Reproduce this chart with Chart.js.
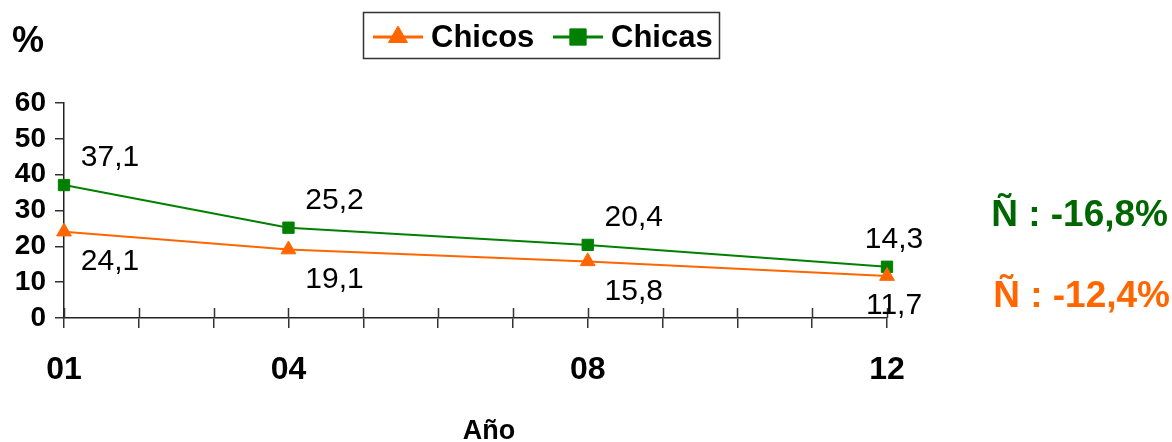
<!DOCTYPE html>
<html>
<head>
<meta charset="utf-8">
<script src="https://cdn.jsdelivr.net/npm/chart.js@4/dist/chart.umd.min.js"></script>
<style>
  html, body { margin: 0; padding: 0; background: #fff; }
  canvas { display: block; }
</style>
</head>
<body>
<canvas id="chart" width="1172" height="442"></canvas>
<script>
// Survey years (two-digit, 2001–2012) and the share (%) per group
const years = [1, 4, 8, 12];
const yearLabels = ['01', '04', '08', '12'];
const chicos = [24.1, 19.1, 15.8, 11.7];
const chicas = [37.1, 25.2, 20.4, 14.3];
const seriesNames = ['Chicos', 'Chicas'];
const changeTexts = ['Ñ : -12,4%', 'Ñ : -16,8%'];

const ORANGE = '#FF6600';
const GREEN = '#008000';
const FONT = '"Liberation Sans", Arial, sans-serif';

const fmt = v => v.toFixed(1).replace('.', ',');
const toPoints = vals => years.map((x, i) => ({ x, y: vals[i] }));

// white background
const bgPlugin = {
  id: 'bg',
  beforeDraw(chart) {
    const c = chart.ctx;
    c.save();
    c.fillStyle = '#fff';
    c.fillRect(0, 0, chart.width, chart.height);
    c.restore();
  }
};

// x tick marks also reach a little above the axis line
const crossTicks = {
  id: 'crossTicks',
  beforeDatasetsDraw(chart) {
    const c = chart.ctx, xs = chart.scales.x, base = chart.chartArea.bottom;
    c.save();
    c.strokeStyle = '#333';
    c.lineWidth = 1.5;
    xs.ticks.forEach(t => {
      const px = Math.round(xs.getPixelForValue(t.value)) + 0.5;
      c.beginPath();
      c.moveTo(px, base);
      c.lineTo(px, base - 10);
      c.stroke();
    });
    c.restore();
  }
};

// value labels next to each marker
const valueLabels = {
  id: 'valueLabels',
  afterDatasetsDraw(chart) {
    const c = chart.ctx;
    c.save();
    c.font = '30px ' + FONT;
    c.fillStyle = '#000';
    c.textAlign = 'center';
    c.textBaseline = 'middle';
    chart.data.datasets.forEach((ds, i) => {
      const meta = chart.getDatasetMeta(i);
      const dy = i === 0 ? 30 : -27;
      meta.data.forEach((pt, j) => {
        const dx = j === meta.data.length - 1 ? 7 : 46;
        c.fillText(fmt(ds.data[j].y), pt.x + dx, pt.y + dy);
      });
    });
    c.restore();
  }
};

// boxed legend, axis captions and change notes
const decorations = {
  id: 'decorations',
  afterDraw(chart) {
    const c = chart.ctx;
    c.save();

    // legend box
    c.strokeStyle = '#333';
    c.lineWidth = 1.5;
    c.strokeRect(363.5, 12.5, 356, 46);
    const items = [
      { ds: chart.data.datasets[0], x0: 373, r: 11 },
      { ds: chart.data.datasets[1], x0: 553, r: 11.5 }
    ];
    const ly = 37;
    items.forEach(it => {
      c.strokeStyle = it.ds.borderColor;
      c.lineWidth = 3;
      c.beginPath();
      c.moveTo(it.x0, ly);
      c.lineTo(it.x0 + 50, ly);
      c.stroke();
      c.fillStyle = it.ds.backgroundColor;
      c.strokeStyle = it.ds.borderColor;
      c.lineWidth = 1;
      Chart.helpers.drawPoint(c, { pointStyle: it.ds.pointStyle, radius: it.r, rotation: 0, borderWidth: 1 }, it.x0 + 25, ly);
      c.fillStyle = '#000';
      c.font = 'bold 31px ' + FONT;
      c.textAlign = 'left';
      c.textBaseline = 'middle';
      c.fillText(it.ds.label, it.x0 + 58, ly + 1);
    });

    // unit caption
    c.fillStyle = '#000';
    c.font = 'bold 36px ' + FONT;
    c.textAlign = 'center';
    c.textBaseline = 'middle';
    c.fillText('%', 28, 42);

    // x axis caption
    c.font = 'bold 27px ' + FONT;
    c.fillText('Año', 489, 432);

    // change notes
    c.font = 'bold 37px ' + FONT;
    c.textAlign = 'right';
    c.fillStyle = '#006600';
    c.fillText(changeTexts[1], 1168, 216);
    c.fillStyle = ORANGE;
    c.fillText(changeTexts[0], 1170, 297);

    c.restore();
  }
};

new Chart(document.getElementById('chart'), {
  type: 'line',
  data: {
    datasets: [
      {
        label: seriesNames[0],
        data: toPoints(chicos),
        borderColor: ORANGE,
        backgroundColor: ORANGE,
        borderWidth: 2,
        pointStyle: 'triangle',
        pointRadius: 8.5,
        pointBorderWidth: 1,
        tension: 0,
        clip: false
      },
      {
        label: seriesNames[1],
        data: toPoints(chicas),
        borderColor: GREEN,
        backgroundColor: GREEN,
        borderWidth: 2,
        pointStyle: 'rect',
        pointRadius: 8,
        pointBorderWidth: 1,
        tension: 0,
        clip: false
      }
    ]
  },
  options: {
    responsive: false,
    devicePixelRatio: 1,
    animation: false,
    layout: { padding: { left: 0, top: 103, right: 285, bottom: 0 } },
    plugins: {
      legend: { display: false },
      tooltip: { enabled: false }
    },
    scales: {
      x: {
        type: 'linear',
        min: 1,
        max: 12,
        afterFit: s => { s.height = 124; },
        ticks: {
          stepSize: 1,
          autoSkip: false,
          maxRotation: 0,
          padding: 23,
          color: '#000',
          font: { family: FONT, size: 32, weight: 'bold' },
          callback: v => {
            const i = years.indexOf(v);
            return i >= 0 ? yearLabels[i] : '';
          }
        },
        grid: {
          drawOnChartArea: false,
          drawTicks: true,
          tickLength: 10,
          color: '#333',
          lineWidth: 1.5
        },
        border: { display: true, color: '#222', width: 1.5 }
      },
      y: {
        min: 0,
        max: 60,
        afterFit: s => { s.width = 64; },
        ticks: {
          stepSize: 10,
          autoSkip: false,
          padding: 9,
          color: '#000',
          font: { family: FONT, size: 28, weight: 'bold' }
        },
        grid: {
          drawOnChartArea: false,
          drawTicks: true,
          tickLength: 9,
          color: '#333',
          lineWidth: 1.5
        },
        border: { display: true, color: '#222', width: 1.5 }
      }
    }
  },
  plugins: [bgPlugin, crossTicks, valueLabels, decorations]
});
</script>
</body>
</html>
